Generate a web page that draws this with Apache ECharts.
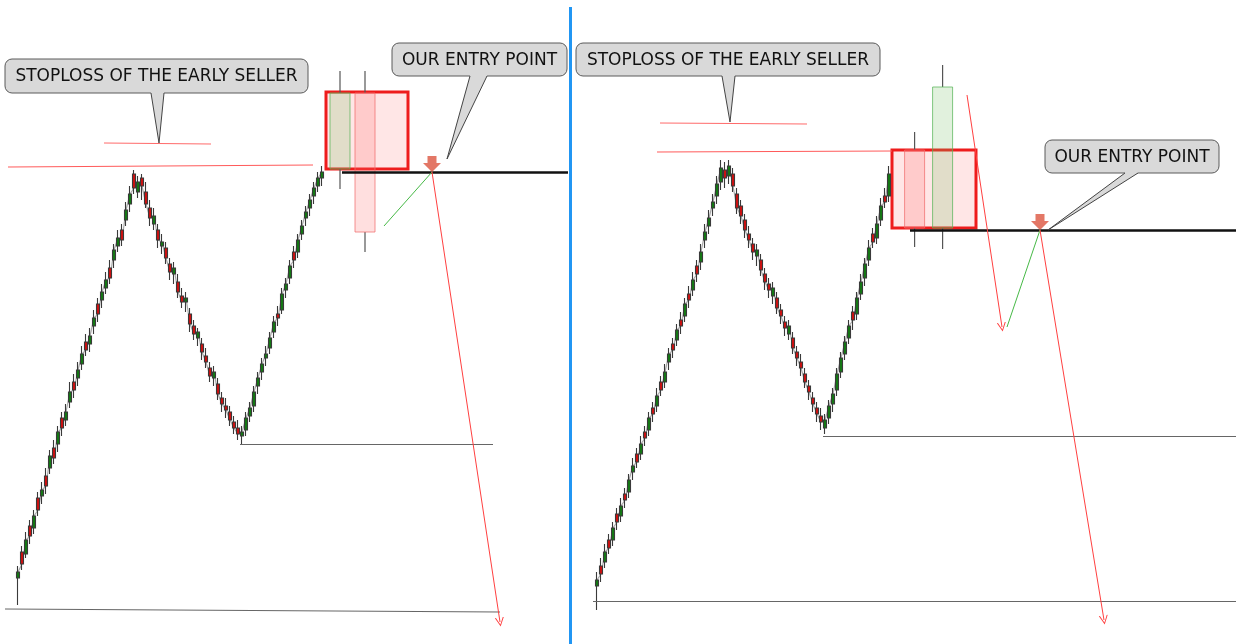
<!DOCTYPE html>
<html>
<head>
<meta charset="utf-8">
<script src="https://cdn.jsdelivr.net/npm/echarts@6/dist/echarts.min.js"></script>
<style>
  html, body { margin: 0; padding: 0; background: #fff; }
  #chart { width: 1236px; height: 644px; }
</style>
</head>
<body>
<div id="chart"></div>
<script>
// small candles [open, close, low, high], one per bar
var leftCandles = [
  [66,72,39,78],[92,80,74,98],[90,104,86,112],[118,108,100,124],[116,128,110,134],
  [146,134,128,152],[148,154,140,162],[168,158,150,176],[176,188,170,194],[196,186,180,204],
  [200,212,192,218],[226,216,208,232],[224,232,218,240],[242,252,236,262],[262,254,246,270],
  [266,274,258,282],[280,290,274,298],[302,294,288,310],[300,308,292,316],[318,326,310,334],
  [340,330,322,346],[344,352,336,360],[356,364,350,372],[376,366,360,384],[384,394,376,400],
  [398,406,392,414],[414,404,398,420],[424,434,418,442],[440,450,432,458],[470,456,450,474],
  [452,462,446,468],[466,458,444,470],[452,440,436,462],[436,426,418,444],[420,428,414,436],
  [414,404,396,420],[398,402,390,410],[396,386,380,402],[380,372,364,386],[370,376,360,382],
  [362,352,346,370],[348,342,336,356],[342,346,332,352],[330,320,312,336],[318,310,304,324],
  [306,312,298,316],[300,292,284,306],[288,282,276,296],[276,268,262,282],[266,272,258,278],
  [260,250,244,266],[246,240,232,252],[238,234,226,246],[232,224,218,238],[222,216,210,228],
  [216,210,204,224],[208,212,200,218],[214,226,208,232],[228,236,222,242],[238,252,232,258],
  [258,266,250,272],[272,280,264,286],[286,290,278,298],[296,306,290,312],[312,322,306,328],
  [330,326,318,338],[334,350,330,356],[354,360,346,366],[366,378,360,384],[392,384,376,398],
  [392,404,386,410],[410,418,404,424],[426,432,418,438],[436,444,428,450],[448,456,440,462],
  [458,466,452,472],[466,472,458,478]
];
var rightCandles = [
  [58,64,34,72],[78,70,62,86],[82,92,76,100],[104,96,90,110],[104,116,98,122],
  [130,122,114,136],[128,138,122,146],[150,144,136,156],[152,164,146,170],[172,178,164,186],
  [190,182,176,196],[190,200,184,208],[212,206,198,218],[214,226,208,232],[236,230,222,242],
  [238,248,232,256],[262,254,248,268],[262,272,256,280],[282,290,274,296],[300,294,286,306],
  [304,314,298,320],[324,318,310,332],[328,340,322,346],[350,344,336,358],[354,364,348,372],
  [378,370,362,384],[382,392,374,400],[404,412,396,420],[418,426,410,434],[436,442,428,450],
  [448,460,440,468],[462,476,454,484],[474,466,456,482],[468,478,460,484],[470,458,452,476],
  [450,436,430,456],[438,428,420,444],[424,414,406,430],[410,404,396,418],[400,392,384,406],
  [388,394,378,400],[384,374,368,390],[370,362,354,376],[360,354,346,366],[348,356,340,362],
  [346,336,330,352],[334,328,320,340],[322,316,308,328],[310,318,304,324],[306,296,290,312],
  [292,286,278,298],[282,276,268,290],[270,262,256,276],[258,252,244,264],[246,240,232,252],
  [236,230,222,242],[228,222,214,236],[216,224,210,230],[226,238,220,244],[240,250,232,256],
  [254,270,248,276],[272,286,266,292],[290,302,284,308],[306,318,300,324],[332,324,314,338],
  [330,346,324,352],[350,362,344,370],[366,380,358,386],[384,396,378,404],[410,402,396,416],
  [406,420,400,428],[424,438,418,446],[448,442,436,456],[448,470,442,478]
];

// big (projected) candles [bar, open, close, low, high]
var leftBig = [[80.5, 475, 551, 455, 573], [86.75, 551, 412, 392, 573]];
var rightBig = [[79.4, 494, 416, 397, 512], [86.4, 416, 557, 395, 579]];

// boxes [x1, price1, x2, price2]
var leftBox = [[77, 552, 97.5, 475]];
var rightBox = [[73.75, 494, 94.75, 416]];

// levels and moves [[x1, price1], [x2, price2]]
var leftEntryLevel = [[81, 472], [137.5, 472]];
var leftStopLevel = [[-2.5, 477], [73.75, 479]];
var leftEarlyStop = [[21.5, 501], [48.25, 500]];
var leftLowLevel = [[55.5, 200], [118.75, 200]];
var leftBase = [[-3.25, 35], [120.5, 32]];
var leftUpMove = [[91.5, 418], [103.5, 472]];
var leftDownMoves = [[[103.5, 472], [120.5, 22]]];
var leftEntry = [[103.5, 472]];

var rightEntryLevel = [[78.25, 414], [159.75, 414]];
var rightStopLevel = [[15, 492], [73.75, 493]];
var rightEarlyStop = [[15.75, 521], [52.5, 520]];
var rightLowLevel = [[56.5, 208], [159.75, 208]];
var rightBase = [[-1, 43], [159.75, 43]];
var rightUpMove = [[102.5, 317], [110.75, 414]];
var rightDownMoves = [[[92.5, 549], [101.25, 317]], [[110.75, 414], [126.75, 24]]];
var rightEntry = [[110.75, 414]];

// callouts: anchor [x, price] and text
var calloutText = ['STOPLOSS OF THE EARLY SELLER', 'OUR ENTRY POINT'];
var leftCallouts = [[35.25, 501], [107.25, 485]];
var rightCallouts = [[33.25, 522], [112.75, 414]];

// callout box layout relative to the pointer tip (pixels)
var leftCalloutBoxes = [
  { dx: -154, dy: -84, w: 303, h: 34, b1: -8, b2: 5 },
  { dx: -55, dy: -116, w: 175, h: 33, b1: 23, b2: 40 }
];
var rightCalloutBoxes = [
  { dx: -154, dy: -79, w: 304, h: 33, b1: -8, b2: 5 },
  { dx: -3, dy: -90, w: 174, h: 33, b1: 77, b2: 90 }
];

var bigStyles = {
  up: { fill: 'rgba(120,190,100,0.22)', stroke: 'rgba(90,180,90,0.75)' },
  down: { fill: 'rgba(255,110,110,0.22)', stroke: 'rgba(240,110,110,0.75)' }
};
var arrowHead = 'path://M0,12 L6,0 L12,12 L10.6,12 L6,2.6 L1.4,12 Z';
var entryMark = 'path://M4.5,0 L13.5,0 L13.5,7 L18,7 L9,16 L0,7 L4.5,7 Z';

function withIndex(rows) {
  return rows.map(function (c, i) { return [i, c[0], c[1], c[2], c[3]]; });
}

function bigCandle(params, api) {
  var x = api.value(0), o = api.value(1), c = api.value(2);
  var pO = api.coord([x, o]), pC = api.coord([x, c]);
  var pL = api.coord([x, api.value(3)]), pH = api.coord([x, api.value(4)]);
  var w = api.size([1, 0])[0] * 5;
  var st = c >= o ? bigStyles.up : bigStyles.down;
  var top = Math.min(pO[1], pC[1]), bot = Math.max(pO[1], pC[1]);
  return {
    type: 'group',
    children: [
      { type: 'line', shape: { x1: pH[0], y1: pH[1], x2: pH[0], y2: top }, style: { stroke: '#555', lineWidth: 1.2 } },
      { type: 'line', shape: { x1: pL[0], y1: bot, x2: pL[0], y2: pL[1] }, style: { stroke: '#555', lineWidth: 1.2 } },
      { type: 'rect', shape: { x: pO[0] - w / 2, y: top, width: w, height: bot - top }, style: { fill: st.fill, stroke: st.stroke, lineWidth: 1 } }
    ]
  };
}

function boxItem(params, api) {
  var a = api.coord([api.value(0), api.value(1)]);
  var b = api.coord([api.value(2), api.value(3)]);
  return {
    type: 'rect',
    shape: { x: a[0], y: a[1], width: b[0] - a[0], height: b[1] - a[1] },
    style: { fill: 'rgba(255,60,60,0.13)', stroke: '#ee1c1c', lineWidth: 3 }
  };
}

function calloutItem(boxes) {
  return function (params, api) {
    var tip = api.coord([api.value(0), api.value(1)]);
    var b = boxes[params.dataIndex];
    var x0 = tip[0] + b.dx, y0 = tip[1] + b.dy, by = y0 + b.h;
    var l = tip[0] + b.b1, r = tip[0] + b.b2;
    return {
      type: 'group',
      children: [
        { type: 'rect', shape: { x: x0, y: y0, width: b.w, height: b.h, r: 7 }, style: { fill: '#d9d9d9', stroke: '#5a5a5a', lineWidth: 1 } },
        { type: 'polygon', shape: { points: [[l, by - 2], [l, by], tip, [r, by], [r, by - 2]] }, style: { fill: '#d9d9d9' } },
        { type: 'polyline', shape: { points: [[l, by], tip, [r, by]] }, style: { stroke: '#444', fill: null, lineWidth: 1 } },
        { type: 'text', style: { text: calloutText[params.dataIndex], x: x0 + b.w / 2, y: y0 + b.h / 2 + 1, align: 'center', verticalAlign: 'middle', font: '17px "DejaVu Sans"', fill: '#111' } }
      ]
    };
  };
}

function seg(pts, color, width) {
  return { coords: pts, lineStyle: { color: color, width: width, opacity: 1 } };
}

function panelSeries(k, candles, big, box, lv, callouts, boxes) {
  var base = { xAxisIndex: k, yAxisIndex: k };
  function s(o) { return Object.assign({}, base, o); }
  return [
    s({ type: 'custom', renderItem: boxItem, data: box, z: 1, silent: true }),
    s({ type: 'line', data: candles.map(function (c, i) { return [i, c[1]]; }), symbol: 'none',
        lineStyle: { color: '#a8a8a8', width: 1.2 }, z: 2, silent: true }),
    s({ type: 'candlestick', data: withIndex(candles), encode: { x: 0, y: [1, 2, 3, 4] }, barWidth: 3.6, z: 3,
        itemStyle: { color: '#137a13', color0: '#d01010', borderColor: '#3a3a3a', borderColor0: '#3a3a3a', borderWidth: 1.1 } }),
    s({ type: 'custom', renderItem: bigCandle, data: big, z: 4, silent: true }),
    s({ type: 'lines', coordinateSystem: 'cartesian2d', polyline: false, z: 5, silent: true, symbol: 'none',
        data: [
          seg(lv.stop, '#ff5a5a', 1),
          seg(lv.early, '#ff6a6a', 1),
          seg(lv.low, '#666', 1.2),
          seg(lv.base, '#666', 1.2),
          seg(lv.entry, '#111', 2.5),
          seg(lv.up, '#46b946', 1)
        ] }),
    s({ type: 'lines', coordinateSystem: 'cartesian2d', z: 5, silent: true,
        symbol: ['none', arrowHead], symbolSize: 9,
        data: lv.down.map(function (d) { return seg(d, '#ff4040', 1); }) }),
    s({ type: 'scatter', data: lv.mark, symbol: entryMark, symbolSize: [18, 16], symbolOffset: [0, -8], z: 6,
        itemStyle: { color: '#dc5540' }, silent: true }),
    s({ type: 'custom', renderItem: calloutItem(boxes), data: callouts, z: 7, silent: true })
  ];
}

var chart = echarts.init(document.getElementById('chart'));
chart.setOption({
  animation: false,
  backgroundColor: '#fff',
  grid: [
    { left: 0, top: 0, width: 568, height: 644 },
    { left: 574, top: 0, width: 662, height: 644 }
  ],
  xAxis: [
    { type: 'value', gridIndex: 0, min: -4.5, max: 137.5, show: false },
    { type: 'value', gridIndex: 1, min: -5.75, max: 159.75, show: false }
  ],
  yAxis: [
    { type: 'value', gridIndex: 0, min: 0, max: 644, show: false },
    { type: 'value', gridIndex: 1, min: 0, max: 644, show: false }
  ],
  graphic: [
    { type: 'rect', shape: { x: 569, y: 7, width: 3, height: 637 }, style: { fill: '#2196f3' } }
  ],
  series: [].concat(
    panelSeries(0, leftCandles, leftBig, leftBox, {
      stop: leftStopLevel, early: leftEarlyStop, low: leftLowLevel, base: leftBase,
      entry: leftEntryLevel, up: leftUpMove, down: leftDownMoves, mark: leftEntry
    }, leftCallouts, leftCalloutBoxes),
    panelSeries(1, rightCandles, rightBig, rightBox, {
      stop: rightStopLevel, early: rightEarlyStop, low: rightLowLevel, base: rightBase,
      entry: rightEntryLevel, up: rightUpMove, down: rightDownMoves, mark: rightEntry
    }, rightCallouts, rightCalloutBoxes)
  )
});
</script>
</body>
</html>
